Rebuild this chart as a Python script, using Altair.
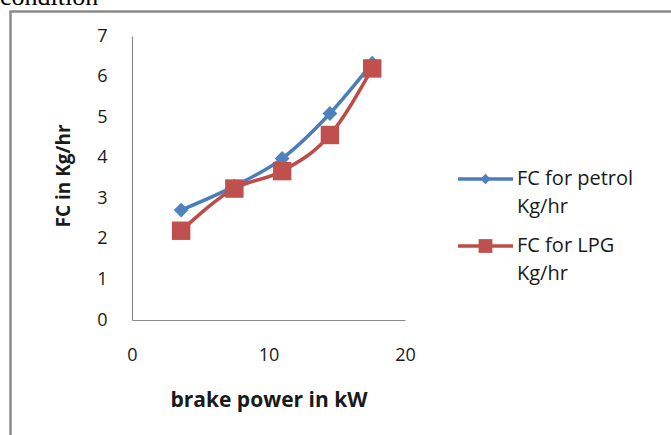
import altair as alt
import pandas as pd

# ---- data ----
power_kw = [3.6, 7.5, 11.0, 14.5, 17.6]
fc_petrol = [2.71, 3.30, 3.98, 5.09, 6.33]
fc_lpg = [2.20, 3.24, 3.67, 4.56, 6.20]
series_names = ["FC for petrol Kg/hr", "FC for LPG Kg/hr"]
x_ticks = [0, 10, 20]
y_ticks = [0, 1, 2, 3, 4, 5, 6, 7]
x_title = "brake power in kW"
y_title = "FC in Kg/hr"
page_text = "condition"

line_colors = ["#4A7EBB", "#BE4B48"]
marker_colors = ["#4F81BD", "#C0504D"]
marker_shapes = ["diamond", "square"]
marker_sizes = [220, 340]
legend_marker_sizes = [110, 190]

df = pd.DataFrame({
    "power": power_kw * 2,
    "fc": fc_petrol + fc_lpg,
    "series": [series_names[0]] * len(power_kw) + [series_names[1]] * len(power_kw),
})
one = pd.DataFrame({"k": [0]})

FONT = "Open Sans"
W, H = 273, 284
PAD = {"left": 132, "top": 36, "right": 671 - 132 - W, "bottom": 435 - 36 - H}

xenc = alt.X(
    "power:Q",
    scale=alt.Scale(domain=[0, 20], nice=False),
    axis=alt.Axis(
        values=x_ticks, title=x_title, grid=False, ticks=False, tickSize=0,
        labelPadding=26, labelFontSize=18, labelFont=FONT, labelColor="#1a1a1a",
        titleFont=FONT, titleFontSize=21, titleFontWeight="bold", titleColor="#1a1a1a",
        titleBaseline="alphabetic", titleY=86, titleX=W / 2, titleAlign="center",
        domainColor="#8a8a8a", domainWidth=1.2, labelFlush=False,
    ),
)
yenc = alt.Y(
    "fc:Q",
    scale=alt.Scale(domain=[0, 7], nice=False),
    axis=alt.Axis(
        values=y_ticks, title=y_title, grid=False, ticks=False, tickSize=0,
        labelPadding=25, labelFontSize=18, labelFont=FONT, labelColor="#1a1a1a",
        titleFont=FONT, titleFontSize=19, titleFontWeight="bold", titleColor="#1a1a1a",
        titleAngle=270, titleBaseline="alphabetic", titleX=-63, titleY=139.5,
        titleAlign="center", domainColor="#8a8a8a", domainWidth=1.2, labelFlush=False,
    ),
)

base = alt.Chart(df)
layers = []
for i, name in enumerate(series_names):
    sub = base.transform_filter(alt.datum.series == name)
    layers.append(
        sub.mark_line(interpolate="monotone", strokeWidth=3.5, color=line_colors[i]).encode(x=xenc, y=yenc)
    )
    layers.append(
        sub.mark_point(filled=True, opacity=1, shape=marker_shapes[i], size=marker_sizes[i],
                       color=marker_colors[i]).encode(x=xenc, y=yenc)
    )

# ---- custom legend (line + marker + two-line label) ----
legend_y = [143, 210]
legend_text_y = [[149, 177], [216, 244]]
for i, name in enumerate(series_names):
    first, second = name.rsplit(" ", 1)
    layers.append(
        alt.Chart(one).mark_rule(strokeWidth=3.5, color=line_colors[i]).encode(
            x=alt.value(326), x2=alt.value(381), y=alt.value(legend_y[i])
        )
    )
    layers.append(
        alt.Chart(one).mark_point(filled=True, opacity=1, shape=marker_shapes[i],
                                  size=legend_marker_sizes[i], color=marker_colors[i]).encode(
            x=alt.value(353.5), y=alt.value(legend_y[i])
        )
    )
    for j, txt in enumerate([first, second]):
        layers.append(
            alt.Chart(one).mark_text(text=txt, align="left", baseline="alphabetic",
                                     font=FONT, fontSize=20, color="#1a1a1a").encode(
                x=alt.value(385), y=alt.value(legend_text_y[i][j])
            )
        )

# ---- outer frame and clipped page text ----
layers.append(
    alt.Chart(one).mark_rect(fill="transparent", stroke="#8a8a8a", strokeWidth=2.5).encode(
        x=alt.value(-121.5), x2=alt.value(560), y=alt.value(-24.5), y2=alt.value(420)
    )
)
layers.append(
    alt.Chart(one).mark_text(text=page_text, align="left", baseline="alphabetic",
                             font="Liberation Serif", fontSize=26, color="#000000").encode(
        x=alt.value(-132), y=alt.value(4.5 - 36)
    )
)

chart = alt.layer(*layers).properties(
    width=W, height=H, padding=PAD, autosize=alt.AutoSizeParams(type="none"),
    background="white",
).configure_view(stroke=None)

chart.save("out.html", embed_options={"renderer": "svg", "actions": False})
